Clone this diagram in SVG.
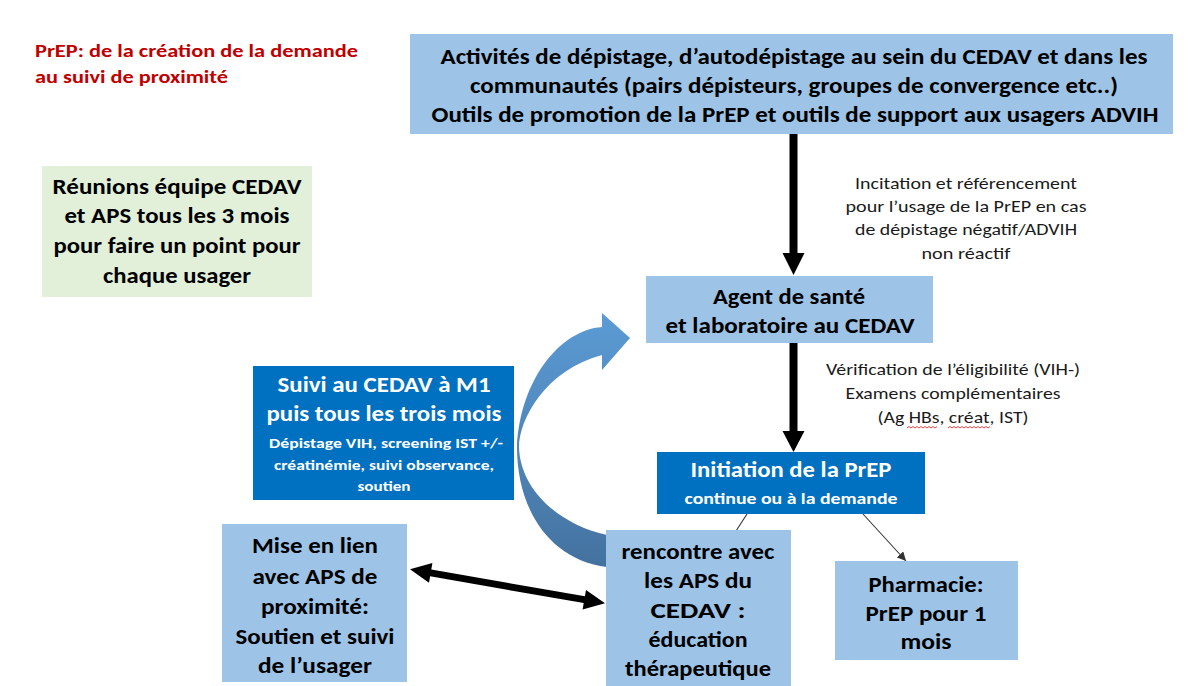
<svg xmlns="http://www.w3.org/2000/svg" width="1198" height="686" viewBox="0 0 1198 686">
<style>
.lb{fill:#9dc3e6}
.db{fill:#0070c0}
.gb{fill:#e2f0d9}
text{font-family:Carlito,Lato,"Liberation Sans",sans-serif;text-anchor:middle}
.b{font-weight:900;font-size:22.5px;fill:#000}
.w{font-weight:900;font-size:22.5px;fill:#fff}
.ws{font-weight:900;font-size:16.5px;fill:#fff}
.wx{font-weight:900;font-size:14px;fill:#fff}
.lab{font-size:16px;fill:#1a1a1a}
.title{font-weight:900;font-size:19px;fill:#c00000;text-anchor:start}
.thick{fill:#000}
.thin{stroke:#333;stroke-width:1.1;fill:none}
.wave{stroke:#e03030;stroke-width:0.9;fill:none}
</style>
<defs>
<linearGradient id="cg" gradientUnits="userSpaceOnUse" x1="0" y1="313" x2="0" y2="567">
<stop offset="0" stop-color="#5b9bd5"/>
<stop offset="1" stop-color="#44729f"/>
</linearGradient>
<marker id="ah" viewBox="0 0 10 10" refX="10" refY="5" markerWidth="9" markerHeight="9" markerUnits="userSpaceOnUse" orient="auto">
<path d="M0,0 L10,5 L0,10 Z" fill="#333"/>
</marker>
</defs>
<rect width="1198" height="686" fill="#fff"/>

<g id="title">
<text class="title" x="35" y="57" textLength="323" lengthAdjust="spacingAndGlyphs">PrEP: de la création de la demande</text>
<text class="title" x="35" y="83" textLength="193" lengthAdjust="spacingAndGlyphs">au suivi de proximité</text>
</g>

<g id="connectors">
<path id="curved-arrow" fill="url(#cg)" d="M602,327 L602,313 L630,338 L602,370 L602,355 C545,370 519,420 519,447 C520,490 560,525 607,535 L607,567 C550,560 517,510 517,447 C520,380 560,330 602,327 Z"/>
<g id="arrow-top">
<rect class="thick" x="789.5" y="134" width="8" height="120"/>
<polygon class="thick" points="782.5,253 804.5,253 793.5,275"/>
</g>
<g id="arrow-agent">
<rect class="thick" x="789.5" y="343" width="8" height="89"/>
<polygon class="thick" points="782.5,431 804.5,431 793.5,452"/>
</g>
<polygon id="double-arrow" class="thick" points="410,569.3 429,582.8 430.1,576.3 583.7,603.1 582.6,609.5 605,603.3 586,589.9 584.9,596.3 431.3,569.5 432.4,563"/>
<line id="line-rencontre" class="thin" x1="747" y1="514" x2="736" y2="531"/>
<line id="line-pharmacie" class="thin" x1="863" y1="514" x2="906" y2="561" marker-end="url(#ah)"/>
</g>

<g id="node-activites">
<rect class="lb" x="410" y="34" width="763" height="100"/>
<text class="b" x="794" y="64" textLength="707" lengthAdjust="spacingAndGlyphs">Activités de dépistage, d’autodépistage au sein du CEDAV et dans les</text>
<text class="b" x="794" y="93" textLength="648" lengthAdjust="spacingAndGlyphs">communautés (pairs dépisteurs, groupes de convergence etc..)</text>
<text class="b" x="795" y="122" textLength="727" lengthAdjust="spacingAndGlyphs">Outils de promotion de la PrEP et outils de support aux usagers ADVIH</text>
</g>

<g id="node-reunions">
<rect class="gb" x="42" y="166" width="270" height="131"/>
<text class="b" x="177" y="194" textLength="249" lengthAdjust="spacingAndGlyphs">Réunions équipe CEDAV</text>
<text class="b" x="177" y="223" textLength="225" lengthAdjust="spacingAndGlyphs">et APS tous les 3 mois</text>
<text class="b" x="177" y="253" textLength="247" lengthAdjust="spacingAndGlyphs">pour faire un point pour</text>
<text class="b" x="177" y="283" textLength="148" lengthAdjust="spacingAndGlyphs">chaque usager</text>
</g>

<g id="label-incitation">
<text class="lab" x="966" y="189" textLength="222" lengthAdjust="spacingAndGlyphs">Incitation et référencement</text>
<text class="lab" x="966" y="212" textLength="241" lengthAdjust="spacingAndGlyphs">pour l’usage de la PrEP en cas</text>
<text class="lab" x="966" y="235" textLength="222" lengthAdjust="spacingAndGlyphs">de dépistage négatif/ADVIH</text>
<text class="lab" x="966" y="259" textLength="89" lengthAdjust="spacingAndGlyphs">non réactif</text>
</g>

<g id="node-agent">
<rect class="lb" x="646" y="276" width="287" height="67"/>
<text class="b" x="789" y="304" textLength="152" lengthAdjust="spacingAndGlyphs">Agent de santé</text>
<text class="b" x="790" y="333" textLength="249" lengthAdjust="spacingAndGlyphs">et laboratoire au CEDAV</text>
</g>

<g id="label-verification">
<text class="lab" x="953" y="375" textLength="254" lengthAdjust="spacingAndGlyphs">Vérification de l’éligibilité (VIH-)</text>
<text class="lab" x="953" y="399" textLength="215" lengthAdjust="spacingAndGlyphs">Examens complémentaires</text>
<text class="lab" x="953" y="423" textLength="151" lengthAdjust="spacingAndGlyphs">(Ag HBs, créat, IST)</text>
<path class="wave" d="M907,428 l2,-1.5 l2,1.5 l2,-1.5 l2,1.5 l2,-1.5 l2,1.5 l2,-1.5 l2,1.5 l2,-1.5 l2,1.5 l2,-1.5 l2,1.5 l2,-1.5 l2,1.5 l2,-1.5"/>
<path class="wave" d="M948,428 l2,-1.5 l2,1.5 l2,-1.5 l2,1.5 l2,-1.5 l2,1.5 l2,-1.5 l2,1.5 l2,-1.5 l2,1.5 l2,-1.5 l2,1.5 l2,-1.5 l2,1.5 l2,-1.5 l2,1.5 l2,-1.5 l2,1.5 l2,-1.5 l2,1.5 l2,-1.5"/>
</g>

<g id="node-initiation">
<rect class="db" x="657" y="452" width="268" height="62"/>
<text class="w" x="791" y="477" textLength="201" lengthAdjust="spacingAndGlyphs">Initiation de la PrEP</text>
<text class="ws" x="791" y="504" textLength="213" lengthAdjust="spacingAndGlyphs">continue ou à la demande</text>
</g>

<g id="node-suivi">
<rect class="db" x="253" y="366" width="261" height="134"/>
<text class="w" x="384" y="392" textLength="213" lengthAdjust="spacingAndGlyphs">Suivi au CEDAV à M1</text>
<text class="w" x="384" y="421" textLength="235" lengthAdjust="spacingAndGlyphs">puis tous les trois mois</text>
<text class="wx" x="386" y="448" textLength="234" lengthAdjust="spacingAndGlyphs">Dépistage VIH, screening IST +/-</text>
<text class="wx" x="384" y="470" textLength="220" lengthAdjust="spacingAndGlyphs">créatinémie, suivi observance,</text>
<text class="wx" x="384" y="491" textLength="53" lengthAdjust="spacingAndGlyphs">soutien</text>
</g>

<g id="node-mise-en-lien">
<rect class="lb" x="222" y="524" width="185" height="158"/>
<text class="b" x="315" y="553" textLength="126" lengthAdjust="spacingAndGlyphs">Mise en lien</text>
<text class="b" x="315" y="584" textLength="125" lengthAdjust="spacingAndGlyphs">avec APS de</text>
<text class="b" x="315" y="614" textLength="108" lengthAdjust="spacingAndGlyphs">proximité:</text>
<text class="b" x="315" y="644" textLength="159" lengthAdjust="spacingAndGlyphs">Soutien et suivi</text>
<text class="b" x="315" y="673" textLength="114" lengthAdjust="spacingAndGlyphs">de l’usager</text>
</g>

<g id="node-rencontre">
<rect class="lb" x="606" y="530" width="185" height="160"/>
<text class="b" x="698" y="559" textLength="153" lengthAdjust="spacingAndGlyphs">rencontre avec</text>
<text class="b" x="698" y="588" textLength="108" lengthAdjust="spacingAndGlyphs">les APS du</text>
<text class="b" x="698" y="618" textLength="95" lengthAdjust="spacingAndGlyphs">CEDAV :</text>
<text class="b" x="698" y="647" textLength="99" lengthAdjust="spacingAndGlyphs">éducation</text>
<text class="b" x="698" y="676" textLength="146" lengthAdjust="spacingAndGlyphs">thérapeutique</text>
</g>

<g id="node-pharmacie">
<rect class="lb" x="835" y="561" width="183" height="99"/>
<text class="b" x="926" y="592" textLength="115" lengthAdjust="spacingAndGlyphs">Pharmacie:</text>
<text class="b" x="926" y="621" textLength="121" lengthAdjust="spacingAndGlyphs">PrEP pour 1</text>
<text class="b" x="926" y="649" textLength="51" lengthAdjust="spacingAndGlyphs">mois</text>
</g>
</svg>
